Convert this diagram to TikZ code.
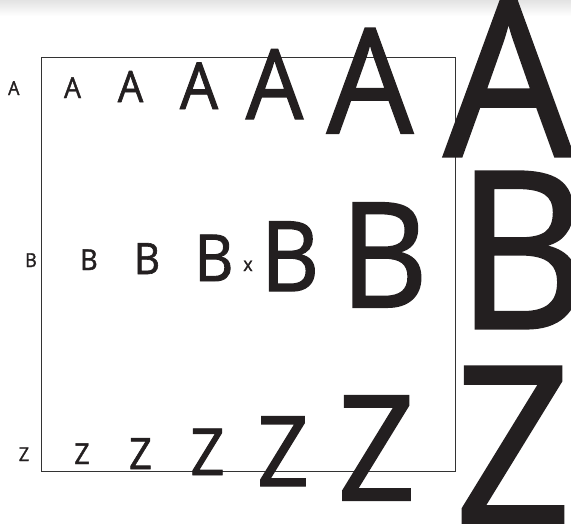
\documentclass[tikz,border=0pt]{standalone}
\usepackage{fontspec}
\setmainfont[FakeStretch=0.93,FakeBold=1.4]{Open Sans}
\definecolor{ink}{HTML}{231F20}
\definecolor{boxline}{HTML}{333333}
\begin{document}
\begin{tikzpicture}[x=1pt,y=-1pt,
  glyph/.style={inner sep=0pt,outer sep=0pt,anchor=base,text=ink},
  s0/.style={glyph,font=\fontsize{19.2}{20}\selectfont},
  s1/.style={glyph,font=\fontsize{28.8}{30}\selectfont},
  s2/.style={glyph,font=\fontsize{43.2}{45}\selectfont},
  s3/.style={glyph,font=\fontsize{64.8}{66}\selectfont},
  s4/.style={glyph,font=\fontsize{97.2}{99}\selectfont},
  s5/.style={glyph,font=\fontsize{145.8}{148}\selectfont},
  s6/.style={glyph,font=\fontsize{218.7}{220}\selectfont},
  frame/.style={draw=boxline,line width=1.4pt}]
\useasboundingbox (0,0) rectangle (571,523);
\shade[top color=black!11,bottom color=white,draw=none] (0,0) rectangle (571,16);
\node[frame,minimum width=414pt,minimum height=414pt,inner sep=0pt,anchor=north west] (box) at (41,57) {};
% row A
\node[s0] (a0) at (13.8,95) {A};
\node[s1] (a1) at (72.5,98) {A};
\node[s2] (a2) at (130.5,102) {A};
\node[s3] (a3) at (199,109) {A};
\node[s4] (a4) at (274.5,119) {A};
\node[s5] (a5) at (370,133) {A};
\node[s6] (a6) at (508.5,156) {A};
% row B
\node[s0] (b0) at (31,267) {B};
\node[s1] (b1) at (89,270) {B};
\node[s2] (b2) at (147,274) {B};
\node[s3] (b3) at (214,281) {B};
\node[s0] (xm) at (248,271) {x};
\node[s4] (b4) at (290,291) {B};
\node[s5] (b5) at (384,307) {B};
\node[s6] (b6) at (522,328) {B};
% row Z
\node[s0] (z0) at (24,461) {Z};
\node[s1] (z1) at (82,464) {Z};
\node[s2] (z2) at (140.5,469) {Z};
\node[s3] (z3) at (207.5,475) {Z};
\node[s4] (z4) at (283,486) {Z};
\node[s5] (z5) at (376.5,500) {Z};
\node[s6] (z6) at (513,523) {Z};
\end{tikzpicture}
\end{document}
